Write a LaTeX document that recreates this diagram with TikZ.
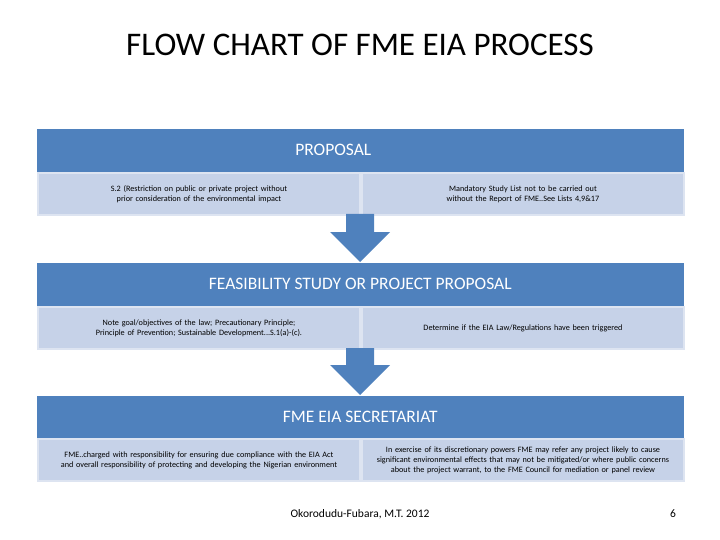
\documentclass[tikz,border=0pt]{standalone}
\usepackage{fontspec}
\setmainfont{Carlito}
\definecolor{hdr}{HTML}{4F81BD}
\definecolor{cel}{HTML}{C6D2E8}
\definecolor{celb}{HTML}{DDE4F1}
\hyphenpenalty=10000
\exhyphenpenalty=10000
\begin{document}
\hyphenpenalty=10000
\begin{tikzpicture}[x=1pt,y=-1pt,
  hbar/.style={fill=hdr,draw=white,line width=0.6pt,minimum width=648pt,minimum height=44pt,anchor=north west,inner sep=0pt,text=white,font=\fontsize{17.5}{20}\selectfont},
  cell/.style={fill=cel,draw=celb,line width=2pt,minimum width=322pt,minimum height=42pt,anchor=north west,inner sep=2pt,text width=295pt,align=center,font=\fontsize{8.2}{10}\selectfont},
  arr/.style={fill=hdr,draw=none}]
\useasboundingbox (0,0) rectangle (720,540);
\node (title) at (360,45) {\fontsize{33}{38}\selectfont FLOW CHART OF FME EIA PROCESS};
\node[hbar] (h1) at (36,128) {\hspace*{-54pt}PROPOSAL};
\node[cell] (c1l) at (37,172) {S.2 (Restriction on public or private project without prior consideration of the environmental impact};
\node[cell] (c1r) at (361,172) {Mandatory Study List not to be carried out without the Report of FME..See Lists 4,9\&17};
\node[hbar] (h2) at (36,262) {FEASIBILITY STUDY OR PROJECT PROPOSAL};
\node[cell] (c2l) at (37,306) {Note goal/objectives of the law; Precautionary Principle; Principle of Prevention; Sustainable Development...S.1(a)-(c).};
\node[cell] (c2r) at (361,306) {Determine if the EIA Law/Regulations have been triggered};
\node[hbar] (h3) at (36,395) {FME EIA SECRETARIAT};
\node[cell] (c3l) at (37,438) {FME..charged with responsibility for ensuring due compliance with the EIA Act and overall responsibility of protecting and developing the Nigerian environment};
\node[cell] (c3r) at (361,438) {In exercise of its discretionary powers FME may refer any project likely to cause significant environmental effects that may not be mitigated/or where public concerns about the project warrant, to the FME Council for mediation or panel review};
\fill[arr] (346,214) -- (374,214) -- (374,232) -- (390,232) -- (360,262) -- (330,232) -- (346,232) -- cycle;
\fill[arr] (346,348) -- (374,348) -- (374,365) -- (390,365) -- (360,395) -- (330,365) -- (346,365) -- cycle;
\node (auth) at (360,514) {\fontsize{11.5}{13}\selectfont Okorodudu-Fubara, M.T. 2012};
\node (pg) at (673,514) {\fontsize{11.5}{13}\selectfont 6};
\end{tikzpicture}
\end{document}
